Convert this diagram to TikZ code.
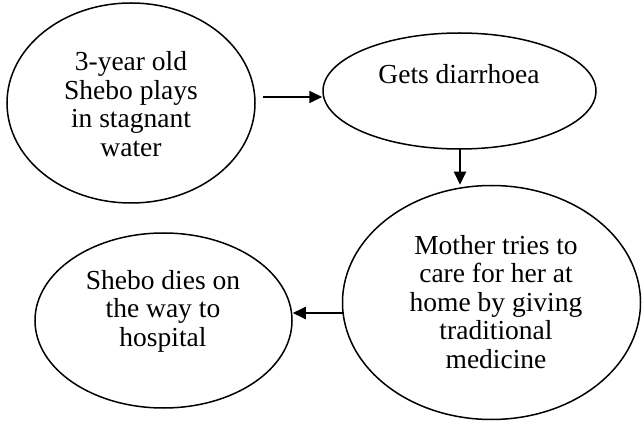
\documentclass[tikz,border=0pt]{standalone}
\usepackage{fontspec}
\setmainfont{Liberation Serif}
\usetikzlibrary{shapes.geometric,arrows.meta}
\begin{document}
\begin{tikzpicture}[x=1pt,y=-1pt,
  bubble/.style={draw,ellipse,line width=1.5pt,inner sep=0pt},
  txt/.style={align=center,font=\fontsize{27.5pt}{28.5pt}\selectfont},
  conn/.style={line width=1.8pt,-{Triangle[length=13pt,width=12pt]}}]
\useasboundingbox (0,0) rectangle (643,422);
\node[bubble,minimum width=248pt,minimum height=200pt] (a) at (131,103) {};
\node[txt] (at) at (131,104) {3-year old\\Shebo plays\\in stagnant\\water};
\node[bubble,minimum width=273pt,minimum height=116pt] (b) at (459.5,91) {};
\node[txt] (bt) at (459,74) {Gets diarrhoea};
\node[bubble,minimum width=298pt,minimum height=234pt] (c) at (491.5,302.5) {};
\node[txt] (ct) at (496,302) {Mother tries to\\care for her at\\home by giving\\traditional\\medicine};
\node[bubble,minimum width=257pt,minimum height=175pt] (d) at (163.5,320.5) {};
\node[txt] (dt) at (163,311) {Shebo dies on\\the way to\\hospital};
\coordinate (a1) at (263,97);
\coordinate (b1) at (460,149);
\coordinate (c1) at (343,313);
\draw[conn] (a1) -- (b.west |- a1);
\draw[conn] (b1) -- (b1 |- c.north);
\draw[conn] (c1) -- (d.east |- c1);
\end{tikzpicture}
\end{document}
